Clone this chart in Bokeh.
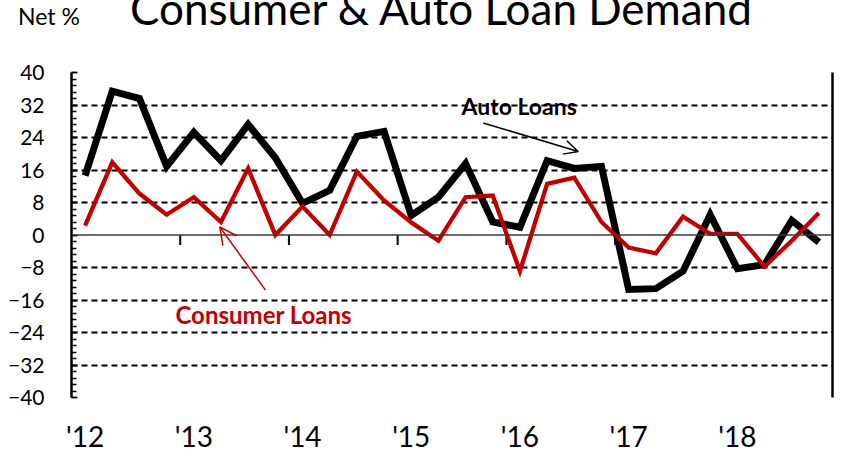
from bokeh.plotting import figure
from bokeh.layouts import column
from bokeh.models import Range1d, FixedTicker, SingleIntervalTicker, Span, Label, Arrow, OpenHead, LinearAxis, Div
from bokeh.embed import file_html
from bokeh.resources import INLINE

# ---- data ----
years = [2012, 2013, 2014, 2015, 2016, 2017, 2018]
year_labels = ["'12", "'13", "'14", "'15", "'16", "'17", "'18"]
quarters = [1, 2, 3, 4]
auto_loans = [14.6, 35.4, 33.6, 16.9, 25.3, 18.3, 27.2, 19.0,
              7.8, 11.0, 24.3, 25.5, 4.8, 9.3, 17.6, 3.2,
              1.9, 18.3, 16.4, 16.9, -13.4, -13.2, -8.9, 5.0,
              -8.3, -7.3, 3.6, -1.8]
consumer_loans = [2.3, 17.9, 10.2, 5.0, 9.3, 3.2, 16.4, 0.0,
                  7.0, 0.0, 15.6, 8.5, 3.1, -1.4, 9.3, 9.7,
                  -8.9, 12.6, 14.1, 3.2, -3.1, -4.5, 4.5, 0.3,
                  0.3, -7.8, -1.4, 5.4]
y_ticks = [-40, -32, -24, -16, -8, 0, 8, 16, 24, 32, 40]
title_text = "Consumer &amp; Auto Loan Demand"
unit_text = "Net %"

x_pos = [yr + (q - 0.5) / 4 for yr in years for q in quarters]

FONT = "Lato"
RED = "#C00000"

# ---- layout constants ----
PAGE_W = 844
HEAD_H = 56
H = 399
L, R, T, B = 71, 12, 16, 58
X0, X1 = 2012, 2019
Y0, Y1 = -40, 40
FRAME_TOP_IMG = HEAD_H + T
PPX = (PAGE_W - L - R) / (X1 - X0)
PPY = 4.05

def dx(px):  # page px -> data x
    return X0 + (px - L) / PPX

def dy(py):  # page px -> data y
    return Y1 - (py - FRAME_TOP_IMG) / PPY

def span_html(text, left, baseline, size):
    top = baseline - 0.887 * size  # Lato: baseline sits 0.887em below top when line-height = 1
    return (f'<span style="position:absolute;left:{left}px;top:{top:.1f}px;'
            f'font-family:{FONT};font-size:{size}px;line-height:{size}px;'
            f'white-space:nowrap;color:black;">{text}</span>')

# ---- header (title strip) ----
head_html = (f'<div style="position:relative;display:block;width:{PAGE_W}px;height:{HEAD_H}px;overflow:hidden;">'
             + span_html(unit_text, 18, 25, 23)
             + span_html(title_text, 130, 25, 44)
             + '</div>')
head = Div(text=head_html, width=PAGE_W, height=HEAD_H, margin=(0, 0, 0, 0),
           styles={"overflow": "hidden", "line-height": "0", "font-size": "0"})

# ---- main chart ----
p = figure(width=PAGE_W, height=H, output_backend="svg", toolbar_location=None,
           x_range=Range1d(X0, X1), y_range=Range1d(Y0, Y1),
           min_border_left=L, min_border_right=R, min_border_top=T, min_border_bottom=B)
p.outline_line_color = None
p.background_fill_color = "white"
p.border_fill_color = "white"

# grid
p.xgrid.visible = False
p.ygrid.ticker = FixedTicker(ticks=[t for t in y_ticks if t != 0])
p.ygrid.grid_line_color = "black"
p.ygrid.grid_line_width = 1.8
p.ygrid.grid_line_dash = "6 4"

# y axis
ya = p.yaxis[0]
ya.ticker = SingleIntervalTicker(interval=8, num_minor_ticks=5)
ya.axis_line_width = 2.5
ya.axis_line_color = "black"
ya.major_tick_in = 6
ya.major_tick_out = 0
ya.minor_tick_in = 5
ya.minor_tick_out = 0
ya.major_tick_line_width = 1.5
ya.minor_tick_line_width = 1.5
ya.major_label_standoff = 27
ya.major_label_text_font = FONT
ya.major_label_text_font_size = "21px"
ya.major_label_text_color = "black"

# x axis (labels only)
xa = p.xaxis[0]
lab_pos = [yr + 0.125 for yr in years]
xa.ticker = FixedTicker(ticks=lab_pos)
xa.major_label_overrides = {pos: lab for pos, lab in zip(lab_pos, year_labels)}
xa.axis_line_color = None
xa.major_tick_line_color = None
xa.minor_tick_line_color = None
xa.major_tick_out = 0
xa.major_tick_in = 0
xa.major_label_standoff = 21
xa.major_label_text_font = FONT
xa.major_label_text_font_size = "28px"
xa.major_label_text_color = "black"

# right border as an empty axis
ra = LinearAxis(ticker=FixedTicker(ticks=[]), axis_line_width=2.5, axis_line_color="black",
                major_tick_line_color=None, minor_tick_line_color=None,
                major_tick_out=0, minor_tick_out=0, major_label_standoff=0,
                major_label_text_font_size="0px")
p.add_layout(ra, "right")

# zero line and year ticks
p.add_layout(Span(location=0, dimension="width", line_color="#3a3a3a", line_width=1.5))
tick_len = 10 / PPY
p.segment(x0=years[1:], y0=0, x1=years[1:], y1=-tick_len, line_color="black", line_width=2)

# series
p.line(x_pos, auto_loans, line_color="black", line_width=7, line_join="miter")
p.line(x_pos, consumer_loans, line_color=RED, line_width=4.3, line_join="miter")

# annotations
p.add_layout(Label(x=dx(461), y=dy(105), text="Auto Loans", text_font=FONT,
                   text_font_style="bold", text_font_size="23px", text_color="black",
                   text_baseline="alphabetic"))
p.add_layout(Arrow(end=OpenHead(size=14, line_width=1.5, line_color="black"),
                   x_start=dx(482.7), y_start=dy(122.3), x_end=dx(577.7), y_end=dy(150.7),
                   line_width=1.5, line_color="black"))
p.add_layout(Label(x=dx(175), y=dy(313), text="Consumer Loans", text_font=FONT,
                   text_font_style="bold", text_font_size="24px", text_color=RED,
                   text_baseline="alphabetic"))
p.add_layout(Arrow(end=OpenHead(size=17, line_width=1.5, line_color=RED),
                   x_start=dx(265), y_start=dy(289), x_end=dx(219.3), y_end=dy(226),
                   line_width=1.5, line_color=RED))

layout = column(head, p, spacing=0)
open("out.html", "w").write(file_html(layout, INLINE))
